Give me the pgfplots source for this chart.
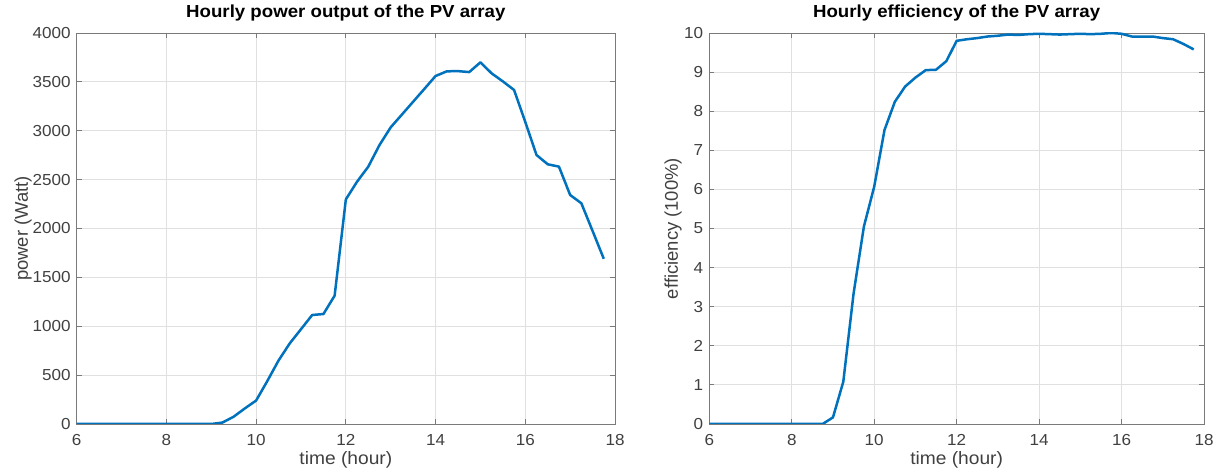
\documentclass[border=0pt]{standalone}
\usepackage{fontspec}
\setmainfont{Liberation Sans}
\newfontfamily\hfont{Liberation Sans}[FakeStretch=1.07]
\usepackage{pgfplots}
\pgfplotsset{compat=1.18}
\definecolor{mblue}{HTML}{0072BD}
\definecolor{gridc}{HTML}{E0E0E0}
\definecolor{axc}{HTML}{7A7A7A}
\definecolor{tickc}{HTML}{404040}
\pgfplotsset{myaxis/.style={
  scale only axis, height=391bp, xmin=6, xmax=18, xtick={6,8,...,18},
  anchor=south west,
  grid=major, major grid style={gridc, line width=0.8bp},
  axis line style={axc, line width=0.9bp},
  tick style={axc, line width=0.9bp},
  tick align=inside, major tick length=5bp,
  /pgf/number format/assume math mode=true,
  /pgf/number format/1000 sep={},
  scaled ticks=false,
  tick label style={font=\hfont\fontsize{16}{16}\selectfont, text=tickc, inner sep=0pt},
  xticklabel style={anchor=base, yshift=-21.7bp},
  yticklabel style={anchor=east, xshift=-6bp},
  xlabel style={font=\hfont\fontsize{18}{18}\selectfont, text=tickc, inner sep=0pt, at={(axis description cs:0.5,0)}, anchor=base, yshift=-40bp},
  ylabel style={font=\fontsize{18.5}{18.5}\selectfont, text=tickc, inner sep=0pt},
  title style={font=\hfont\fontsize{17.5}{17.5}\selectfont\bfseries, inner sep=0pt, at={(axis description cs:0.5,1)}, anchor=base, yshift=10bp},
}}
\pgfplotstableread{
t p
6 0
6.25 0
6.5 0
6.75 0
7 0
7.25 0
7.5 0
7.75 0
8 0
8.25 0
8.5 0
8.75 0
9 0
9.25 15
9.5 75
9.75 160
10 240
10.25 440
10.5 650
10.75 825
11 970
11.25 1115
11.5 1125
11.75 1313
12 2298
12.25 2479
12.5 2633
12.75 2854
13 3035
13.25 3166
13.5 3297
13.75 3428
14 3560
14.25 3608
14.5 3610
14.75 3600
15 3700
15.25 3587
15.5 3505
15.75 3417
16 3090
16.25 2752
16.5 2657
16.75 2633
17 2343
17.25 2258
17.5 1975
17.75 1690
}\powertable
\pgfplotstableread{
t e
6 0
6.25 0
6.5 0
6.75 0
7 0
7.25 0
7.5 0
7.75 0
8 0
8.25 0
8.5 0
8.75 0
9 0.17
9.25 1.08
9.5 3.34
9.75 5.05
10 6.07
10.25 7.52
10.5 8.24
10.75 8.63
11 8.86
11.25 9.05
11.5 9.06
11.75 9.28
12 9.80
12.25 9.84
12.5 9.87
12.75 9.91
13 9.93
13.25 9.96
13.5 9.95
13.75 9.97
14 9.98
14.25 9.97
14.5 9.96
14.75 9.97
15 9.98
15.25 9.97
15.5 9.98
15.75 10.0
16 9.98
16.25 9.91
16.5 9.91
16.75 9.91
17 9.87
17.25 9.84
17.5 9.72
17.75 9.58
}\efftable
\begin{document}
\begin{tikzpicture}
\useasboundingbox (0,0) rectangle (1219bp,472bp);
\begin{axis}[myaxis, at={(76.7bp,48bp)}, width=538.3bp,
  ymin=0, ymax=4000, ytick={0,500,...,4000},
  title={Hourly power output of the PV array},
  xlabel={time (hour)}, ylabel={power (Watt)},
  ylabel style={at={(axis description cs:-0.0905,0.5)}, anchor=base}]
\addplot[mblue, line width=2.5bp, line join=round, no markers] table[x=t, y=p] {\powertable};
\end{axis}
\begin{axis}[myaxis, at={(709.3bp,48bp)}, width=494.7bp,
  ymin=0, ymax=10, ytick={0,1,...,10},
  title={Hourly efficiency of the PV array},
  xlabel={time (hour)}, ylabel={efficiency (100\%)},
  ylabel style={at={(axis description cs:-0.0633,0.5)}, anchor=base}]
\addplot[mblue, line width=2.5bp, line join=round, no markers] table[x=t, y=e] {\efftable};
\end{axis}
\end{tikzpicture}
\end{document}
